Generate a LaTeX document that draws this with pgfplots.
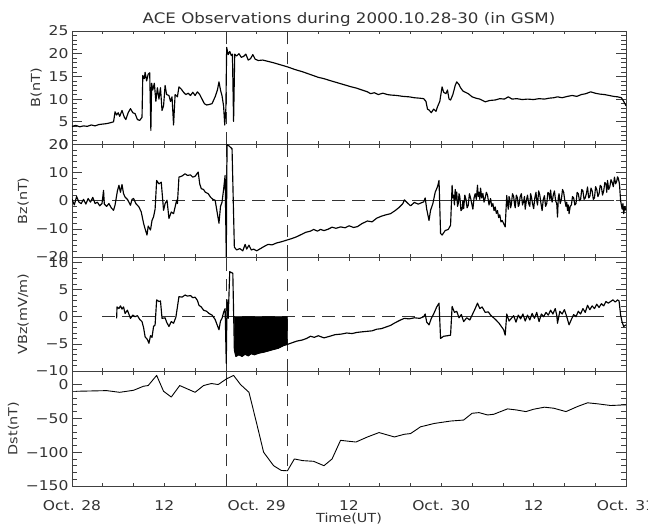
\documentclass[border=0pt]{standalone}
\usepackage{fontspec}
\setmainfont{DejaVu Sans}[FakeStretch=1.15]
\usepackage{pgfplots}
\pgfplotsset{compat=1.18}
\newcommand{\lblfont}{\fontsize{12.5}{15}\selectfont}
\begin{document}
\begin{tikzpicture}
\pgfplotsset{
  panel/.style={
    scale only axis, width=554pt, xmin=0, xmax=72,
    xtick={0,12,...,72}, minor x tick num=2,
    minor y tick num=4,
    axis line style={black!75, line width=0.9pt},
    every tick/.append style={black!75, line width=0.7pt},
    xtick style={/pgfplots/major tick length=3.5pt, /pgfplots/minor tick length=3.5pt},
    ytick style={/pgfplots/major tick length=10pt, /pgfplots/minor tick length=5pt},
    tick label style={font=\fontsize{13.5}{16}\selectfont, text=black!80},
    ylabel style={font=\lblfont, text=black!80},
    /pgf/number format/assume math mode=true,
  },
  dat/.style={black, line width=1.15pt, line join=round},
  vdash/.style={black!80, line width=0.9pt, dash pattern=on 12pt off 8pt},
  hdash/.style={black!80, line width=0.9pt, dash pattern=on 13pt off 7pt},
  zsol/.style={black!80, line width=0.6pt},
}
% ---------------- Panel 1: B ----------------
\begin{axis}[panel, at={(72pt,-144.5pt)}, anchor=south west, height=113.5pt,
  ymin=0, ymax=25, ytick={0,5,...,25}, xticklabels={},
  ylabel={B(nT)},
  title={ACE Observations during 2000.10.28-30 (in GSM)},
  every axis title/.style={at={(axis description cs:0.5,1)}, anchor=base, yshift=7pt,
    font=\fontsize{14.5}{17}\selectfont, text=black!80}]
\addplot[vdash] coordinates {(20.1,0) (20.1,25)};
\addplot[vdash] coordinates {(28,0) (28,25)};
\addplot[dat] coordinates {
(0,4.0) (0.5,4.2) (1.0,3.9) (1.5,4.1) (2.0,4.0) (2.5,4.3) (3.0,4.1) (3.5,4.4) (4.0,4.5) (4.5,4.6)
(5.0,4.8) (5.4,5.0) (5.6,7.2) (5.8,6.5) (6.0,7.0) (6.2,6.2) (6.5,7.5) (6.8,6.0) (7.0,5.5) (7.3,7.0)
(7.6,7.9) (7.9,7.0) (8.2,6.8) (8.5,5.5) (8.8,5.3) (9.1,6.0) (9.2,15.2) (9.4,14.5) (9.5,15.9) (9.7,14.0)
(9.9,15.5) (10.1,15.8) (10.25,3.1) (10.35,13.5) (10.5,12) (10.7,13.5) (10.9,9.5) (11.1,12.5) (11.3,10)
(11.5,12.5) (11.7,7.5) (11.9,8.5) (12.1,13) (12.3,11) (12.6,10.8) (12.8,9.5) (13.0,10.5) (13.2,4.3)
(13.4,11) (13.7,10.5) (13.9,12.7) (14.2,12.2) (14.5,11.5) (14.8,11.0) (15.1,11.3) (15.4,10.8) (15.7,11.5)
(16.0,10.8) (16.3,11.6) (16.6,11.0) (16.9,10.0) (17.2,9.0) (17.5,8.7) (17.8,8.8) (18.2,9.0) (18.6,10.5)
(18.9,12.0) (19.1,13.8) (19.3,12.0) (19.5,10.7) (19.7,8.5) (19.85,4.3) (20.0,8.0) (20.1,21.4) (20.3,19.8)
(20.5,20.5) (20.7,19.6) (20.85,19.9) (21.0,5.1) (21.15,19.9) (21.4,19.5) (21.7,20) (22.0,19.2) (22.3,19.4)
(22.6,19.9) (22.9,18.6) (23.2,18.9) (23.5,19.8) (23.8,18.8) (24.2,18.5) (24.8,18.6) (25.5,18.3) (26.2,18.0)
(27.0,17.6) (28.0,17.1) (29.0,16.5) (30.0,16.0) (31.0,15.4) (32.0,14.8) (32.75,14.5) (33.5,14.1) (34.5,13.6)
(35.5,13.1) (36.3,12.7) (37.0,12.4) (37.7,12.0) (38.4,11.6) (38.8,11.2) (39.3,11.4) (39.8,11.0) (40.4,11.3)
(41.0,11.0) (41.4,10.9) (42.2,10.8) (43.0,10.6) (43.8,10.5) (44.5,10.3) (45.2,10.2) (45.7,10.1) (46.0,9.5)
(46.2,7.8) (46.4,7.6) (46.7,7.0) (47.0,7.8) (47.3,7.3) (47.5,8.3) (47.8,9.5) (48.1,12.7) (48.3,11.5)
(48.6,11.2) (48.8,12.0) (49.0,10.0) (49.2,9.8) (49.5,11.0) (49.8,13.0) (50.0,13.8) (50.3,13.2) (50.5,12.5)
(50.8,11.8) (51.0,11.6) (51.5,11.2) (52.0,10.5) (52.5,10.2) (53.0,10.0) (53.7,9.4) (54.3,9.7) (55.0,9.8)
(55.6,10.1) (56.2,10.0) (56.7,10.5) (57.2,10.0) (57.8,10.1) (58.5,9.9) (59.2,10.0) (60.0,9.9) (60.7,10.1)
(61.4,10.0) (62.0,10.2) (62.6,10.3) (63.1,10.5) (63.7,10.3) (64.4,10.6) (65.0,10.8) (65.6,10.6) (66.2,11.0)
(66.8,11.2) (67.4,11.6) (68.0,11.3) (68.6,11.1) (69.2,11.0) (69.8,10.8) (70.4,10.6) (70.9,10.5) (71.4,10.3)
(71.7,9.5) (72.0,8.5)
};
\end{axis}
% ---------------- Panel 2: Bz ----------------
\begin{axis}[panel, at={(72pt,-257pt)}, anchor=south west, height=112.5pt,
  ymin=-20, ymax=20, ytick={-20,-10,0,10,20}, yticklabels={−20,−10,0,10,20}, xticklabels={},
  ylabel={Bz(nT)}]
\addplot[vdash] coordinates {(20.1,-20) (20.1,20)};
\addplot[vdash] coordinates {(28,-20) (28,20)};
\addplot[hdash] coordinates {(0,0) (45.7,0)};
\addplot[zsol] coordinates {(45.7,0) (70.4,0)};
\addplot[dat] coordinates {
(0,0.5) (0.3,-1.5) (0.6,1.5) (0.9,-0.5) (1.2,-1) (1.5,0.5) (1.8,-1.2) (2.1,0.8) (2.4,-0.5) (2.7,1.2)
(3.0,-1) (3.3,-0.5) (3.6,-1.8) (3.9,-1) (4.1,3.7) (4.2,-1.2) (4.5,-2) (4.8,-1) (5.1,-2.5) (5.4,-3.4)
(5.6,-1.5) (5.9,3.5) (6.1,5.5) (6.3,3) (6.5,5.8) (6.7,2.5) (6.9,1.3) (7.2,0.5) (7.6,-1.6) (7.8,0.5)
(8.0,0.8) (8.3,-1) (8.7,-2.2) (9.0,-4) (9.3,-8) (9.5,-10) (9.75,-12.2) (9.9,-9) (10.2,-10.4) (10.4,-7)
(10.6,-5.7) (10.8,-3) (11.0,7.2) (11.3,6) (11.6,6.6) (11.9,-3.4) (12.1,-1) (12.35,0.2) (12.6,-6.3)
(12.9,-4) (13.2,-4.6) (13.6,0.2) (13.7,-1) (13.9,8.4) (14.3,8.8) (14.7,9.6) (15.0,9.0) (15.4,9.2)
(15.7,8.4) (16.0,8.7) (16.4,10.2) (16.6,6) (16.8,4.3) (17.1,4) (17.3,3.1) (17.7,2.5) (18.0,1.3)
(18.3,0.5) (18.6,0.2) (18.8,-3) (19.1,-8.0) (19.3,-2) (19.5,-0.5) (19.7,4) (19.9,9) (20.05,-20)
(20.15,20) (20.4,19.5) (20.8,18.5) (21.1,-16.5) (21.4,-17.5) (21.8,-17) (22.2,-17.8) (22.5,-15.5)
(22.7,-17.2) (23.0,-15.8) (23.3,-17.5) (23.6,-17.2) (24.0,-17.8) (24.5,-17) (25.0,-16.2) (25.5,-15.5)
(26.0,-15.7) (26.6,-15.0) (27.2,-14.6) (27.9,-14.0) (28.5,-13.5) (29.2,-12.8) (29.8,-12.0) (30.4,-11.2)
(31.0,-10.8) (31.4,-10.2) (31.9,-10.8) (32.3,-10.2) (32.75,-10.6) (33.3,-10.1) (33.8,-9.4) (34.3,-9.8)
(34.9,-9.3) (35.5,-9.6) (36.0,-8.9) (36.6,-9.5) (37.1,-9.2) (37.7,-8.1) (38.4,-7.2) (39.0,-7.5)
(39.6,-6.2) (40.2,-5.5) (40.8,-5.0) (41.4,-4.6) (42.0,-3.5) (42.5,-2.4) (43.0,-1.0) (43.2,0.3)
(43.6,-0.8) (44.0,-1.8) (44.5,-0.6) (45.0,-1.2) (45.7,-0.4) (45.9,1.0) (46.1,-3) (46.4,-7) (46.6,-3.4)
(46.9,-1) (47.2,3) (47.5,5) (47.7,7.2) (47.9,-11.6) (48.1,-12.2) (48.5,-10.6) (48.9,-10.2) (49.2,-8.7)
(49.4,5.5) (49.5,1) (49.6,2) (49.7,-1.5) (49.8,4) (49.9,0.5) (50.0,3.1) (50.1,-2) (50.2,-1) (50.3,2.5) (50.4,1.5) (50.55,-3.5) (50.7,-3) (50.8,0) (50.9,-2.8) (51.05,2) (51.2,0.5)
(51.35,-2.5) (51.5,-1.6) (51.65,2.5) (51.8,1) (51.95,-1) (52.1,-3) (52.25,1) (52.4,2.5) (52.55,0.5) (52.7,5.5) (52.8,1.5) (52.9,3) (53.0,0.5) (53.1,4.5) (53.25,1) (53.4,2.6) (53.55,-0.5) (53.7,1) (53.85,3) (54.0,2)
(54.2,-1.5) (54.4,0.8) (54.55,-2) (54.7,-1) (54.85,-3.5) (55.0,-2.2) (55.15,-4.5) (55.3,-3.5) (55.45,-6) (55.6,-5) (55.75,-7.5) (55.9,-7) (56.1,-8.1) (56.3,-9.3) (56.5,1.9)
(56.6,-1) (56.7,-3) (56.8,1.5) (56.9,0.5) (57.0,-2.5) (57.1,-1.3) (57.25,2.5) (57.4,1.5) (57.5,-1) (57.6,-2.5) (57.75,2) (57.9,1) (58.0,-2) (58.1,-1.5) (58.25,1.5) (58.4,2.5) (58.55,-1.5) (58.7,-0.1)
(58.8,1.5) (58.9,-3) (59.05,0) (59.2,2) (59.35,-1) (59.5,-2) (59.6,2.5) (59.7,1.5) (59.85,-1) (60.0,-2.8) (60.15,1) (60.3,3) (60.4,0) (60.5,-1.5) (60.65,3.5) (60.8,2) (60.95,-1) (61.1,-3.5)
(61.25,0.5) (61.4,1.8) (61.55,-2) (61.7,-1) (61.85,3) (62.0,2.5) (62.1,0.5) (62.2,3.8) (62.3,1) (62.4,-0.5) (62.55,2) (62.7,3.5) (62.85,0) (63.0,-1) (63.1,-5.8) (63.2,1) (63.3,2.5)
(63.45,-1) (63.6,0.5) (63.75,4) (63.9,3) (64.05,0) (64.2,-2) (64.3,-0.5) (64.4,-3.5) (64.5,-1.5) (64.6,-4.6) (64.75,-2) (64.9,-1.5) (65.05,1.5) (65.2,1) (65.35,-1.5) (65.5,-1) (65.65,3) (65.8,2.5)
(65.95,0) (66.1,0.5) (66.25,4) (66.4,3.5) (66.55,0.5) (66.7,1) (66.85,2.5) (67.0,4.9) (67.15,1) (67.3,1.5) (67.45,4.5) (67.6,3.5) (67.75,0.5) (67.9,1) (68.05,5) (68.2,4) (68.35,1.5) (68.5,2.5) (68.65,5.5) (68.8,5)
(68.95,2) (69.1,3.5) (69.25,6.5) (69.4,6) (69.5,3) (69.6,7.2) (69.75,4) (69.9,5) (70.05,7.5) (70.2,6.5) (70.35,5) (70.5,8.4) (70.65,6) (70.8,7) (70.9,8.5) (71.0,8) (71.15,6) (71.3,0) (71.4,-1.5) (71.5,-3)
(71.6,-1) (71.7,-4.6) (71.85,-2) (72,-3.5)
};
\end{axis}
% ---------------- Panel 3: VBz ----------------
\begin{axis}[panel, at={(72pt,-371pt)}, anchor=south west, height=114pt,
  ymin=-10, ymax=11, ytick={-10,-5,0,5,10}, yticklabels={−10,−5,0,5,10}, xticklabels={},
  ylabel={VBz(mV/m)}]
\addplot[vdash] coordinates {(20.1,-10) (20.1,11)};
\addplot[vdash] coordinates {(28,-10) (28,11)};
\addplot[hdash] coordinates {(3.9,0) (45.7,0)};
\addplot[zsol] coordinates {(45.7,0) (69.1,0)};
\addplot[fill=black, draw=black, line width=0.6pt] coordinates {
(21.1,0) (21.1,-6.1) (21.3,-7.3) (21.7,-7.0) (22.1,-7.3) (22.5,-6.9) (22.9,-7.2) (23.3,-6.8) (23.7,-7.0)
(24.3,-6.7) (25.0,-6.5) (25.5,-6.3) (26.0,-6.1) (26.8,-5.8) (27.5,-5.3) (28.0,-5.1) (28.0,0)
} -- cycle;
\addplot[dat] coordinates {
(5.8,-0.3) (5.85,1.8) (6.1,1.5) (6.3,2.0) (6.5,1.4) (6.7,1.8) (6.9,0.6) (7.2,1.2) (7.6,-0.3) (7.9,0.3)
(8.2,0.0) (8.5,0.2) (8.8,-0.5) (9.1,-0.9) (9.3,-2) (9.5,-3.7) (9.8,-4.2) (10.0,-4.9) (10.2,-3.5)
(10.4,-3.8) (10.6,-1.8) (10.8,-1.5) (11.0,3.1) (11.3,2.8) (11.5,2.9) (11.7,-0.3) (12.1,-0.2) (12.3,-1.0)
(12.6,-1.8) (12.9,-0.9) (13.2,-1.2) (13.5,-0.1) (13.9,3.7) (14.3,3.6) (14.7,4.0) (15.0,3.8) (15.4,3.9)
(15.7,3.5) (16.0,3.6) (16.3,3.0) (16.5,2.1) (16.8,1.8) (17.1,1.2) (17.5,1.0) (17.8,0.6) (18.2,0.3)
(18.6,-0.5) (19.1,-2.4) (19.3,-0.8) (19.5,-0.3) (19.7,0.8) (19.9,1.5) (20.05,-8.6) (20.15,3.1)
(20.3,-0.3) (20.5,8.3) (20.9,8.0) (21.1,-6.1) (21.3,-7.3) (21.7,-7.0) (22.1,-7.3) (22.5,-6.9)
(22.9,-7.2) (23.3,-6.8) (23.7,-7.0) (24.3,-6.7) (25.0,-6.5) (25.5,-6.3) (26.0,-6.1) (26.8,-5.8)
(27.5,-5.3) (28.0,-5.1) (28.6,-4.8) (29.2,-4.5) (29.9,-4.3) (30.5,-4.0) (31.0,-3.6) (31.5,-3.8)
(32.0,-3.5) (32.75,-3.9) (33.5,-3.6) (34.2,-3.3) (35.0,-3.2) (35.7,-3.0) (36.4,-3.1) (37.0,-2.9)
(37.6,-2.8) (38.3,-2.7) (39.0,-2.6) (39.6,-2.3) (40.2,-2.2) (40.8,-1.9) (41.4,-1.6) (42.0,-1.1)
(42.7,-0.6) (43.2,-0.3) (43.8,-0.4) (44.5,-0.2) (45.2,-0.3) (45.7,0.0) (45.9,0.5) (46.1,-1) (46.4,-1.5)
(46.7,-0.3) (47.0,0.5) (47.4,1.8) (47.7,2.5) (47.9,-4.0) (48.3,-3.6) (48.8,-3.5) (49.2,-3.4) (49.4,1.9)
(49.7,0.8) (50.0,1.0) (50.3,-0.2) (50.6,0.4) (50.9,-0.9) (51.3,-0.2) (51.7,-0.6) (52.0,0.3) (52.4,1.5)
(52.7,2.5) (53.0,1.5) (53.3,1.8) (53.7,0.8) (54.1,0.9) (54.4,0.3) (54.8,-0.2) (55.1,-0.6) (55.5,-1.2)
(55.8,-1.8) (56.1,-2.4) (56.3,-3.4) (56.5,0.5) (56.8,-0.8) (57.1,-0.3) (57.4,0.2) (57.7,-1.0) (58.0,0.3)
(58.3,-0.4) (58.6,0.5) (58.9,-0.8) (59.2,0.3) (59.5,-0.6) (59.8,0.6) (60.1,-0.3) (60.4,0.8) (60.7,-0.9)
(61.0,0.5) (61.3,0.0) (61.6,0.8) (61.9,0.3) (62.2,1.2) (62.5,0.5) (62.8,1.5) (63.0,0.3) (63.1,-1.2)
(63.4,1.0) (63.7,0.5) (64.0,1.3) (64.3,0.0) (64.6,-1.5) (64.9,-0.5) (65.2,0.4) (65.5,0.0) (65.8,1.0)
(66.1,0.5) (66.4,1.5) (66.7,0.8) (67.0,2.1) (67.3,1.3) (67.6,2.0) (67.9,1.5) (68.2,2.3) (68.5,1.7)
(68.8,2.4) (69.1,2.0) (69.4,2.8) (69.7,2.5) (70.0,2.8) (70.3,3.1) (70.6,2.7) (70.9,3.1) (71.1,2.9)
(71.3,0.3) (71.5,-1.0) (71.7,-1.8) (72,-1.5)
};
\end{axis}
% ---------------- Panel 4: Dst ----------------
\begin{axis}[panel, at={(72pt,-486pt)}, anchor=south west, height=115pt,
  ymin=-150, ymax=20, ytick={-150,-100,-50,0}, yticklabels={−150,−100,−50,0},
  xticklabels={Oct. 28,12,Oct. 29,12,Oct. 30,12,Oct. 31},
  xticklabel style={yshift=-11pt},
  ylabel={Dst(nT)}, xlabel={Time(UT)},
  every axis x label/.style={at={(axis description cs:0.5,0)}, anchor=base, yshift=-36pt,
    font=\lblfont, text=black!80}]
\addplot[vdash] coordinates {(20.1,-150) (20.1,20)};
\addplot[vdash] coordinates {(28,-150) (28,20)};
\addplot[black, line width=0.9pt, line join=round] coordinates {
(0.5,-10) (2.5,-9.5) (4.5,-9) (6.2,-11.5) (8.0,-8.5) (9.3,-2.5) (9.9,-1.5) (11.0,13.5) (11.9,-10)
(12.9,-18.5) (14.0,-1.5) (16.0,-11.5) (17.1,-1.5) (18.1,1.5) (19.0,0) (20.1,8.5) (21.0,13.5) (21.9,0)
(23.0,-11.5) (24.0,-57.5) (24.9,-100) (26.2,-120) (27.2,-127) (28.0,-127.5) (28.9,-110) (30.0,-112.5)
(31.4,-113.5) (32.75,-120) (33.8,-110) (34.9,-82.5) (36.9,-85) (38.4,-77.5) (39.9,-71) (41.9,-77.5)
(43.2,-73.5) (44.0,-72.5) (45.3,-62.5) (47.1,-57.5) (49.2,-54) (50.9,-52.5) (52.0,-42.5) (52.9,-41.5)
(54.0,-45) (54.8,-44) (56.6,-36) (57.7,-37.5) (59.0,-40) (60.0,-36.5) (61.4,-33.5) (62.6,-35)
(64.2,-40) (65.7,-32.5) (67.0,-27) (68.3,-28.5) (70.0,-31) (72.0,-30)
};
\end{axis}
\pgfresetboundingbox
\path[use as bounding box] (0pt,0pt) rectangle (648pt,-524pt);
\end{tikzpicture}
\end{document}
